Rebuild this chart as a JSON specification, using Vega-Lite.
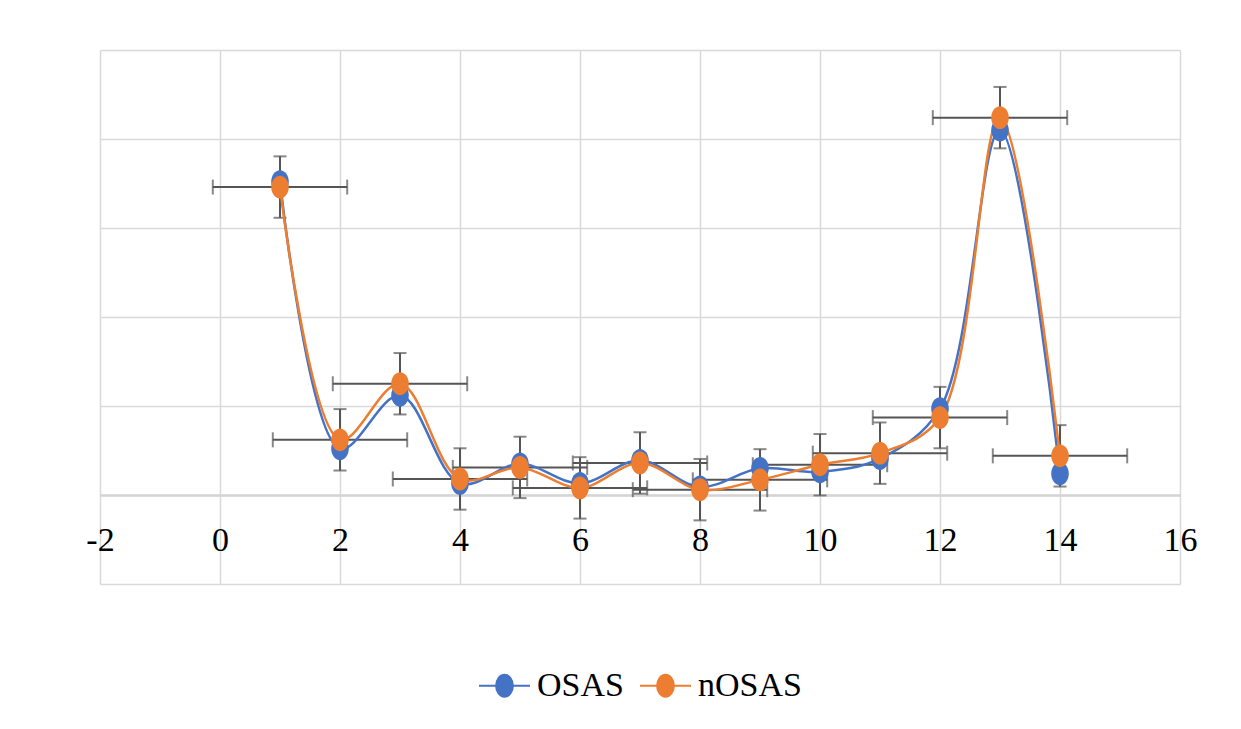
{
  "$schema": "https://vega.github.io/schema/vega-lite/v6.json",
  "width": 1080,
  "height": 534,
  "autosize": {"type": "none"},
  "padding": {"left": 100, "top": 50, "right": 61, "bottom": 145},
  "background": "white",
  "config": {
    "view": {"stroke": null},
    "font": "Liberation Serif"
  },
  "datasets": {
    "all": [
      {"x": 1, "y": 35.2, "series": "OSAS"},
      {"x": 2, "y": 5.2, "series": "OSAS"},
      {"x": 3, "y": 11.2, "series": "OSAS"},
      {"x": 4, "y": 1.3, "series": "OSAS"},
      {"x": 5, "y": 3.5, "series": "OSAS"},
      {"x": 6, "y": 1.3, "series": "OSAS"},
      {"x": 7, "y": 3.9, "series": "OSAS"},
      {"x": 8, "y": 0.9, "series": "OSAS"},
      {"x": 9, "y": 3.0, "series": "OSAS"},
      {"x": 10, "y": 2.6, "series": "OSAS"},
      {"x": 11, "y": 4.1, "series": "OSAS"},
      {"x": 12, "y": 9.7, "series": "OSAS"},
      {"x": 13, "y": 41.0, "series": "OSAS"},
      {"x": 14, "y": 2.4, "series": "OSAS"},
      {"x": 1, "y": 34.6, "series": "nOSAS"},
      {"x": 2, "y": 6.2, "series": "nOSAS"},
      {"x": 3, "y": 12.5, "series": "nOSAS"},
      {"x": 4, "y": 1.8, "series": "nOSAS"},
      {"x": 5, "y": 3.1, "series": "nOSAS"},
      {"x": 6, "y": 0.8, "series": "nOSAS"},
      {"x": 7, "y": 3.6, "series": "nOSAS"},
      {"x": 8, "y": 0.6, "series": "nOSAS"},
      {"x": 9, "y": 1.7, "series": "nOSAS"},
      {"x": 10, "y": 3.4, "series": "nOSAS"},
      {"x": 11, "y": 4.7, "series": "nOSAS"},
      {"x": 12, "y": 8.7, "series": "nOSAS"},
      {"x": 13, "y": 42.4, "series": "nOSAS"},
      {"x": 14, "y": 4.4, "series": "nOSAS"}
    ],
    "err": [
      {"x": 1, "y": 34.6, "xe": 1.12, "ye": 3.45},
      {"x": 2, "y": 6.2, "xe": 1.12, "ye": 3.45},
      {"x": 3, "y": 12.5, "xe": 1.12, "ye": 3.45},
      {"x": 4, "y": 1.8, "xe": 1.12, "ye": 3.45},
      {"x": 5, "y": 3.1, "xe": 1.12, "ye": 3.45},
      {"x": 6, "y": 0.8, "xe": 1.12, "ye": 3.45},
      {"x": 7, "y": 3.6, "xe": 1.12, "ye": 3.45},
      {"x": 8, "y": 0.6, "xe": 1.12, "ye": 3.45},
      {"x": 9, "y": 1.7, "xe": 1.12, "ye": 3.45},
      {"x": 10, "y": 3.4, "xe": 1.12, "ye": 3.45},
      {"x": 11, "y": 4.7, "xe": 1.12, "ye": 3.45},
      {"x": 12, "y": 8.7, "xe": 1.12, "ye": 3.45},
      {"x": 13, "y": 42.4, "xe": 1.12, "ye": 3.45},
      {"x": 14, "y": 4.4, "xe": 1.12, "ye": 3.45}
    ]
  },
  "layer": [
    {
      "data": {"name": "err"},
      "mark": {"type": "errorbar", "ticks": {"size": 15}, "color": "#555555", "thickness": 2},
      "encoding": {
        "x": {"field": "x", "type": "quantitative"},
        "xError": {"field": "xe"},
        "y": {"field": "y", "type": "quantitative"}
      }
    },
    {
      "data": {"name": "err"},
      "mark": {"type": "errorbar", "ticks": {"size": 13}, "color": "#555555", "thickness": 2},
      "encoding": {
        "y": {"field": "y", "type": "quantitative"},
        "yError": {"field": "ye"},
        "x": {"field": "x", "type": "quantitative"}
      }
    },
    {
      "data": {"name": "all"},
      "mark": {"type": "line", "interpolate": "catmull-rom", "strokeWidth": 2.5},
      "encoding": {
        "x": {"field": "x", "type": "quantitative"},
        "y": {"field": "y", "type": "quantitative"},
        "color": {"field": "series", "type": "nominal"},
        "detail": {"field": "series"}
      }
    },
    {
      "data": {"name": "all"},
      "mark": {
        "type": "point",
        "filled": true,
        "opacity": 1,
        "size": 520,
        "shape": "M0,-1A0.77,1,0,1,1,0,1A0.77,1,0,1,1,0,-1Z"
      },
      "encoding": {
        "x": {
          "field": "x",
          "type": "quantitative",
          "scale": {"domain": [-2, 16], "nice": false, "zero": false},
          "axis": {
            "title": null,
            "values": [-2, 0, 2, 4, 6, 8, 10, 12, 14, 16],
            "labelExpr": "'' + datum.value",
            "offset": -89,
            "grid": true,
            "gridColor": "#d9d9d9",
            "gridWidth": 1.5,
            "ticks": false,
            "domainColor": "#d4d4d4",
            "domainWidth": 2.5,
            "labelFont": "Liberation Serif",
            "labelFontSize": 34,
            "labelColor": "#000000",
            "labelPadding": 28,
            "labelFlush": false,
            "labelOverlap": false
          }
        },
        "y": {
          "field": "y",
          "type": "quantitative",
          "scale": {"domain": [-10, 50], "nice": false, "zero": false},
          "axis": {
            "title": null,
            "values": [-10, 0, 10, 20, 30, 40, 50],
            "labels": false,
            "ticks": false,
            "domain": false,
            "grid": true,
            "gridColor": "#d9d9d9",
            "gridWidth": 1.5
          }
        },
        "color": {
          "field": "series",
          "type": "nominal",
          "scale": {"domain": ["OSAS", "nOSAS"], "range": ["#4472C4", "#ED7D31"]},
          "legend": {
            "title": null,
            "orient": "none",
            "direction": "horizontal",
            "legendX": 378,
            "legendY": 609,
            "padding": 0,
            "symbolType": "M-1,0H1M0,-0.43A0.33,0.43,0,1,1,0,0.43A0.33,0.43,0,1,1,0,-0.43Z",
            "symbolSize": 2601,
            "symbolStrokeWidth": 2,
            "symbolOpacity": 1,
            "labelFont": "Liberation Serif",
            "labelFontSize": 34,
            "labelColor": "#000000",
            "labelOffset": 6,
            "columnPadding": 12,
            "encode": {
              "symbols": {
                "update": {
                  "stroke": {"scale": "color", "field": "value"},
                  "fill": {"scale": "color", "field": "value"},
                  "strokeWidth": {"value": 2}
                }
              }
            }
          }
        }
      }
    }
  ]
}
